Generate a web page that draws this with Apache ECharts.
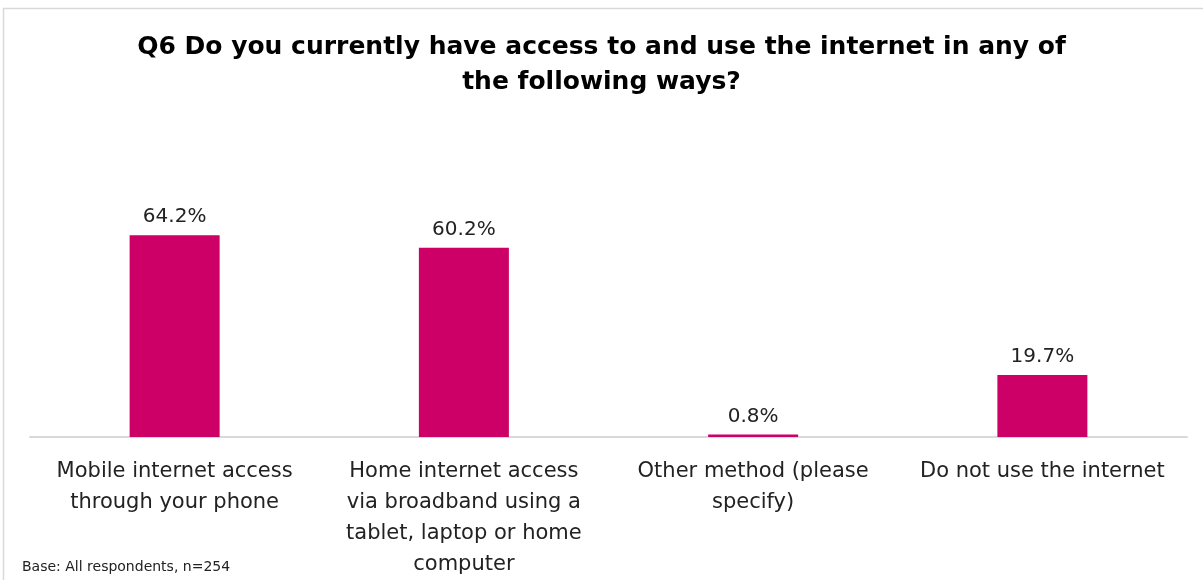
<!DOCTYPE html>
<html><head><meta charset="utf-8">
<style>html,body{margin:0;padding:0;background:#fff;}#c{width:1203px;height:580px;}</style>
<script src="https://cdn.jsdelivr.net/npm/echarts@6/dist/echarts.min.js"></script>
</head><body><div id="c"></div>
<script>
const categories = [
  "Mobile internet access\nthrough your phone",
  "Home internet access\nvia broadband using a\ntablet, laptop or home\ncomputer",
  "Other method (please\nspecify)",
  "Do not use the internet"
];
const values = [64.2, 60.2, 0.8, 19.7];
const titleText = "Q6 Do you currently have access to and use the internet in any of\nthe following ways?";
const baseText = "Base: All respondents, n=254";

const chart = echarts.init(document.getElementById('c'));
chart.setOption({
  backgroundColor: '#ffffff',
  animation: false,
  title: {
    text: titleText, left: 'center', top: 25,
    textStyle: {fontFamily: 'DejaVu Sans', fontWeight: 'bold', fontSize: 25, color: '#000', lineHeight: 35}
  },
  graphic: [
    {type: 'rect', shape: {x: 3.5, y: 8.5, width: 1210, height: 600}, style: {fill: 'none', stroke: '#d9d9d9', lineWidth: 1.5}},
    {type: 'text', left: 22, top: 560, style: {text: baseText, font: '14px DejaVu Sans', fill: '#222'}}
  ],
  grid: {left: 30, right: 16, top: 217, bottom: 143, containLabel: false},
  xAxis: {
    type: 'category', data: categories,
    axisLine: {show: true, lineStyle: {color: '#d9d9d9', width: 2}},
    axisTick: {show: false},
    axisLabel: {interval: 0, fontFamily: 'DejaVu Sans', fontSize: 21, color: '#222', lineHeight: 31, margin: 19}
  },
  yAxis: {type: 'value', min: 0, max: 70, show: false, splitLine: {show: false}},
  series: [{
    type: 'bar', data: values, barWidth: 90,
    itemStyle: {color: '#cc0066'},
    label: {show: true, position: 'top', distance: 8, formatter: p => p.value.toFixed(1) + '%',
      fontFamily: 'DejaVu Sans', fontSize: 20, color: '#222'}
  }]
});
</script></body></html>
